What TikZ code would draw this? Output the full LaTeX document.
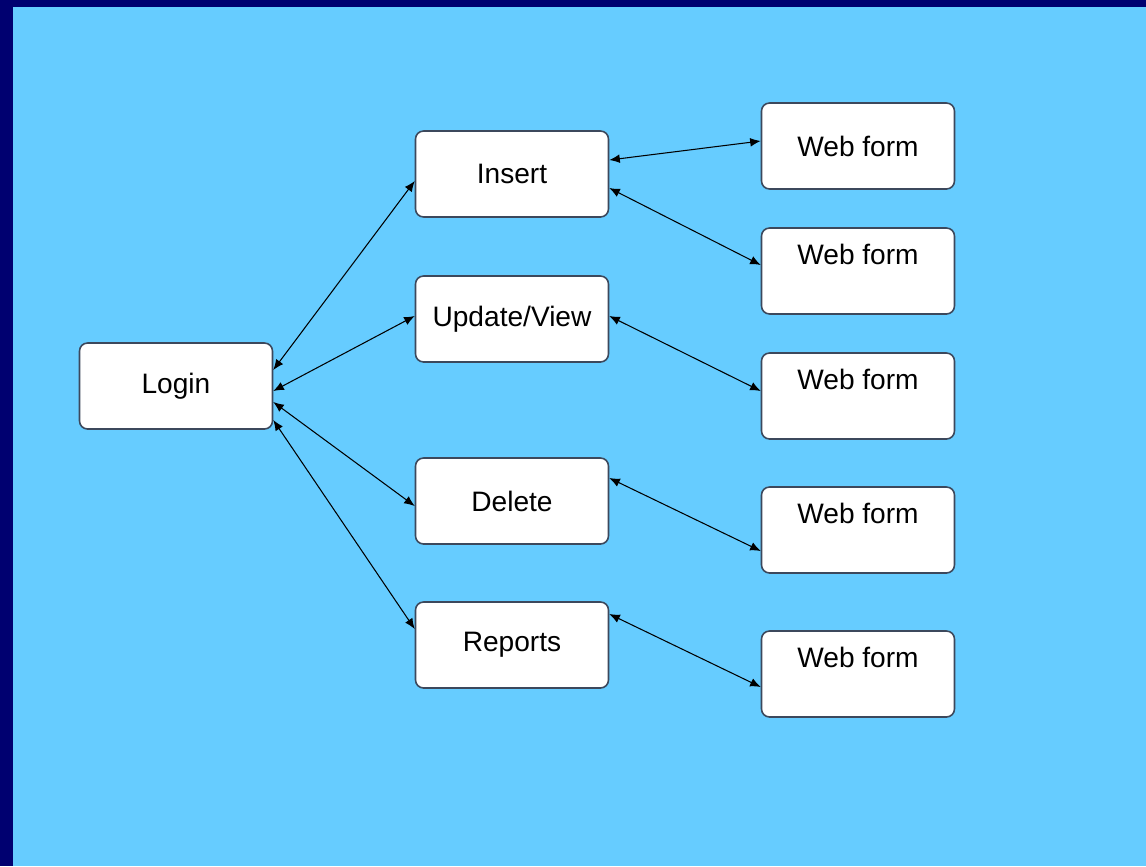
\documentclass[tikz,border=0pt]{standalone}
\usepackage{fontspec}
\setmainfont{Liberation Sans}
\usepackage{tikz}
\usetikzlibrary{arrows.meta,calc,positioning}
\definecolor{navyframe}{RGB}{0,0,112}
\definecolor{skyback}{RGB}{102,204,255}
\definecolor{boxline}{RGB}{60,72,92}

\begin{document}
\begin{tikzpicture}[x=0.02cm,y=-0.02cm,
    box/.style={draw=boxline,line width=0.9pt,fill=white,rounded corners=0.16cm,
      minimum width=3.86cm,minimum height=1.72cm,font=\fontsize{16}{19}\selectfont},
    topform/.style={box,text height=0.41cm,text depth=0.68cm},
    link/.style={{Latex[length=6pt,width=5pt]}-{Latex[length=6pt,width=5pt]},line width=0.6pt,black}]
      % Background
      \useasboundingbox (0,0) rectangle (1146,866);
      \fill[navyframe] (0,0) rectangle (1146,866);
      \fill[skyback] (13,7) rectangle (1146,866);
      % Login box
      \node[box] (login) at (176,386) {Login};
      % Action boxes
      \node[box] (insert) at (512,174) {Insert};
      \node[box] (update) at (512,319) {Update/View};
      \node[box] (delete) at (512,501) {Delete};
      \node[box] (reports) at (512,645) {Reports};
      % Web form boxes
      \node[box] (formA) at (858,146) {Web form};
      \node[topform] (formB) at (858,271) {Web form};
      \node[topform] (formC) at (858,396) {Web form};
      \node[topform] (formD) at (858,530) {Web form};
      \node[topform] (formE) at (858,674) {Web form};
      % Login to actions
      \draw[link] ($(login.east)+(0,-16)$) -- ($(insert.west)+(0,7)$);
      \draw[link] ($(login.east)+(0,5)$) -- ($(update.west)+(0,-3)$);
      \draw[link] ($(login.east)+(0,16)$) -- ($(delete.west)+(0,5)$);
      \draw[link] ($(login.east)+(0,34)$) -- ($(reports.west)+(0,-16)$);
      % Actions to web forms
      \draw[link] ($(insert.east)+(0,-14)$) -- ($(formA.west)+(0,-5)$);
      \draw[link] ($(insert.east)+(0,14)$) -- ($(formB.west)+(0,-6)$);
      \draw[link] ($(update.east)+(0,-3)$) -- ($(formC.west)+(0,-5)$);
      \draw[link] ($(delete.east)+(0,-23)$) -- ($(formD.west)+(0,21)$);
      \draw[link] ($(reports.east)+(0,-31)$) -- ($(formE.west)+(0,13)$);
    \end{tikzpicture}
\end{document}
